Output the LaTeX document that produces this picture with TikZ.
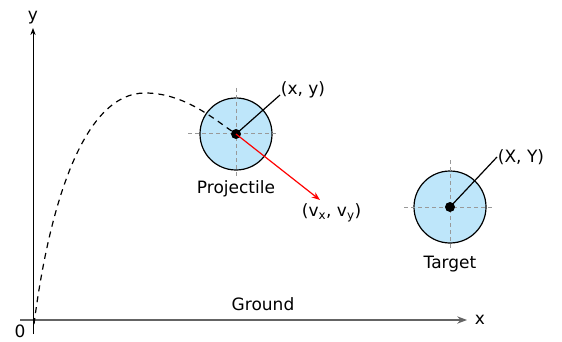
\documentclass[tikz,border=0pt]{standalone}
\usepackage{fontspec}
\setmainfont{DejaVu Sans}
\usetikzlibrary{arrows.meta, positioning}
\definecolor{ballblue}{RGB}{190,230,250}
\definecolor{axisgray}{RGB}{100,100,100}

\begin{document}
\begin{tikzpicture}[x=1pt, y=-1pt, >=Stealth, font=\fontsize{17}{20}\selectfont,
    line width=1.2pt,
    ball/.style={circle, draw, line width=1.2pt, fill=ballblue, minimum size=72pt, inner sep=0pt},
    cross/.style={dashed, dash pattern=on 4pt off 3pt, gray!80, line width=1pt},
    dot/.style={circle, fill=black, minimum size=10pt, inner sep=0pt}]
  \useasboundingbox (0,0) rectangle (562,342);
  % axes
  \coordinate (O) at (33,320);
  \coordinate (xend) at (467,320);
  \coordinate (yend) at (33,28);
  \draw[->, axisgray, line width=1.5pt] (20,320) -- (xend);
  \draw[->, line width=0.9pt] (33,334) -- (yend);
  \node[right=4pt of xend] (xlab) {x};
  \node[above=0pt of yend] (ylab) {y};
  \node (zero) at (20,331) {0};
  \node (ground) at (263,304) {Ground};
  % projectile
  \node[ball] (proj) at (236,134) {};
  \draw[cross] (188,134) -- (278,134) (236,88) -- (236,178);
  % trajectory
  \draw[dash pattern=on 6pt off 5pt] (34,324) .. controls (50,200) and (85,93) .. (145,93)
    .. controls (185,93) and (215,120) .. (proj.center);
  \node[dot] (pc) at (proj.center) {};
  \coordinate (ptip) at (280,95);
  \draw (pc.center) -- (ptip);
  \node[right=-3pt of ptip, yshift=5pt] (plab) {(x, y)};
  \node[below=6pt of proj] (pname) {Projectile};
  \coordinate (vtip) at (320,200);
  \draw[->, red] (pc.center) -- (vtip);
  \node[below right=0pt and -22pt of vtip] (vlab) {(v\textsubscript{x}, v\textsubscript{y})};
  % target
  \node[ball] (targ) at (450,207) {};
  \draw[cross] (404,207) -- (494,207) (450,160) -- (450,250);
  \node[dot] (tc) at (targ.center) {};
  \coordinate (ttip) at (497,157);
  \draw (tc.center) -- (ttip);
  \node[right=-3pt of ttip] (tlab) {(X, Y)};
  \node[below=9pt of targ] (tname) {Target};
\end{tikzpicture}
\end{document}
